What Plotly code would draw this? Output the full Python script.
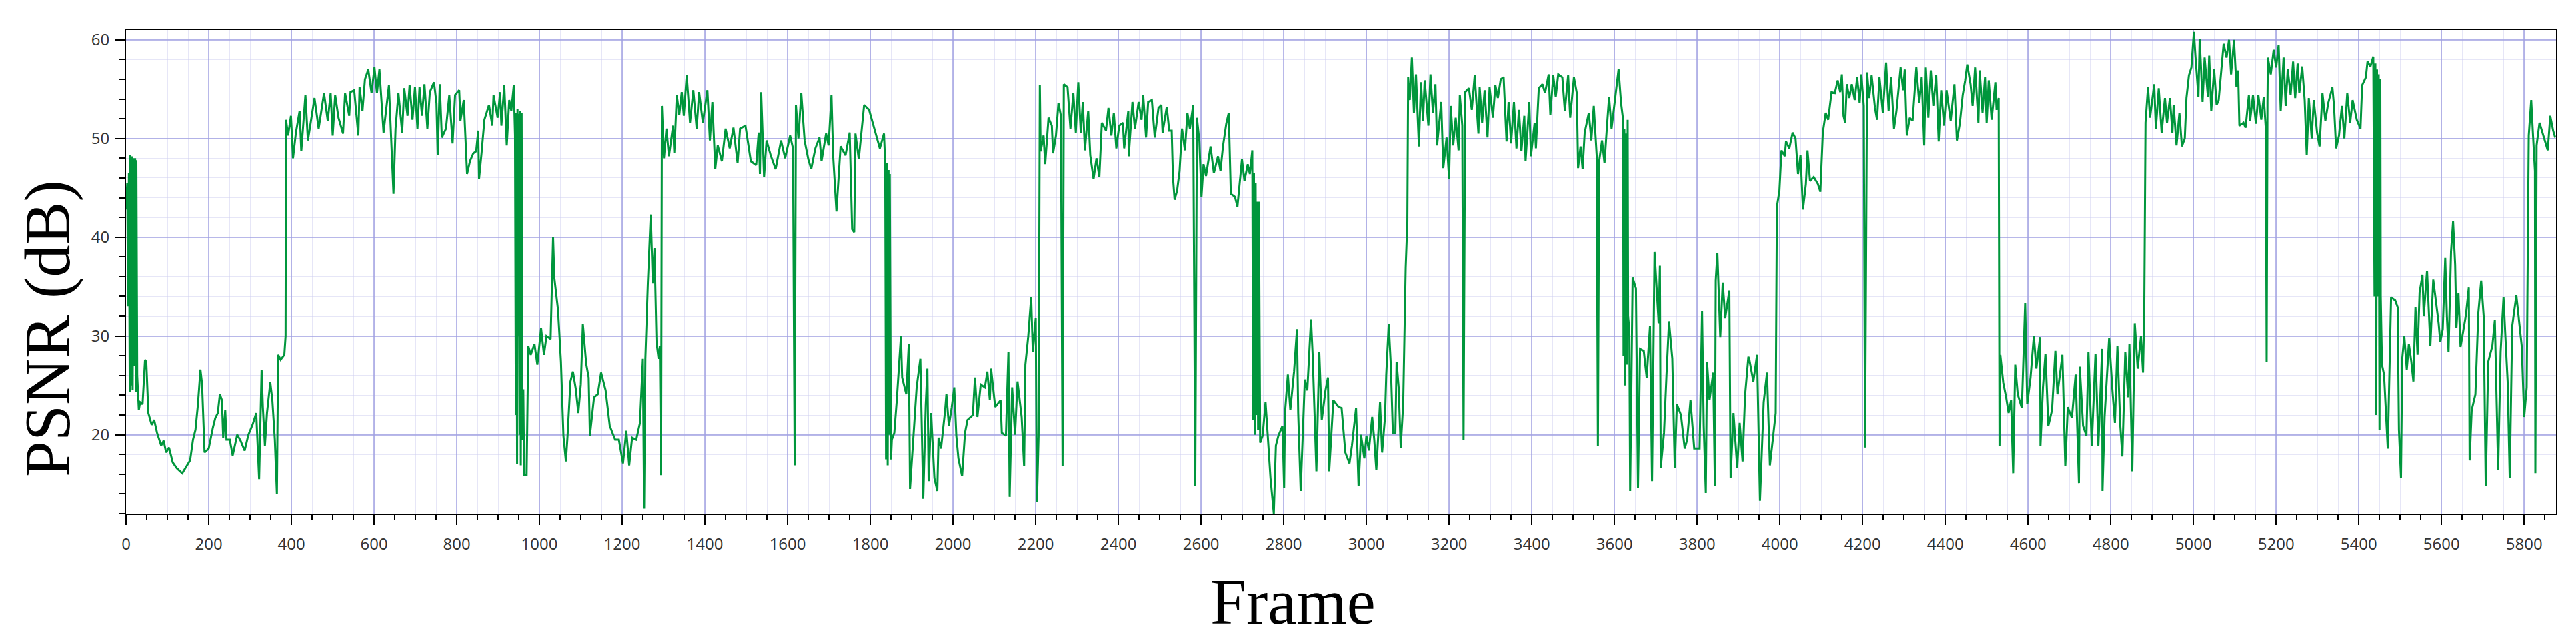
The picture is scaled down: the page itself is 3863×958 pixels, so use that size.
import plotly.graph_objects as go

# (frame, PSNR dB) pairs, one list per stretch of the sequence
part_0_960 = [
    (0, 42.8), (3, 45.5), (5, 33.0), (7, 46.5), (9, 24.3), (10, 48.3), (12, 25.0), (14, 48.2),
    (16, 24.5), (18, 48.0), (20, 27.0), (22, 48.0), (24, 24.3), (25, 47.8), (27, 26.0), (29, 23.5),
    (31, 22.5), (34, 23.3), (40, 23.1), (46, 27.6), (49, 27.4), (54, 22.2), (62, 21.0), (68, 21.5),
    (75, 20.2), (85, 18.9), (91, 19.4), (97, 18.2), (104, 18.7), (113, 17.2), (123, 16.6), (136, 16.1),
    (146, 16.8), (155, 17.4), (162, 19.5), (168, 20.5), (174, 23.1), (180, 26.6), (184, 25.1), (187, 22.2),
    (190, 18.2), (200, 18.6), (210, 20.7), (216, 21.7), (222, 22.2), (227, 24.1), (232, 23.5), (235, 19.7),
    (240, 22.5), (243, 19.5), (251, 19.5), (258, 17.9), (269, 20.0), (277, 19.4), (287, 18.4), (296, 20.0),
    (306, 21.0), (315, 22.2), (322, 15.5), (328, 26.6), (331, 22.8), (336, 18.9), (341, 22.2), (349, 25.3),
    (354, 23.5), (360, 19.5), (365, 14.0), (368, 28.1), (374, 27.6), (383, 28.1), (386, 30.0), (387, 51.9),
    (392, 50.3), (399, 52.3), (404, 48.0), (411, 50.6), (420, 52.8), (424, 48.7), (434, 54.4), (440, 49.8),
    (447, 51.6), (456, 54.1), (466, 51.0), (479, 54.6), (488, 51.8), (495, 54.6), (500, 50.3), (506, 54.4),
    (514, 52.1), (525, 50.5), (530, 54.6), (540, 52.3), (543, 54.7), (552, 54.9), (562, 50.3), (565, 55.2),
    (572, 52.8), (578, 56.0), (586, 57.0), (594, 54.6), (601, 57.2), (607, 54.6), (613, 57.0), (617, 54.1),
    (623, 50.6), (636, 55.4), (647, 44.4), (652, 51.0), (659, 54.6), (668, 50.6), (673, 55.1), (681, 52.3),
    (686, 55.4), (693, 51.9), (699, 55.2), (705, 51.0), (710, 55.2), (716, 52.3), (722, 55.5), (729, 51.0),
    (735, 54.7), (745, 55.7), (751, 53.6), (754, 48.3), (759, 55.5), (764, 50.1), (774, 51.0), (782, 54.4),
    (790, 49.5), (796, 54.4), (806, 54.9), (809, 51.8), (817, 53.9), (825, 46.4), (832, 47.7), (840, 48.5),
    (847, 48.7), (852, 50.8), (854, 45.9), (860, 48.5), (867, 51.9), (878, 53.4), (886, 51.3), (889, 54.4),
    (899, 52.1), (905, 54.7), (908, 51.3), (915, 55.4), (921, 49.3), (927, 53.9), (932, 52.8), (938, 55.4),
    (941, 50.3), (943, 22.0), (944, 52.6), (946, 17.0), (947, 53.0), (949, 30.0), (950, 52.5), (952, 20.0),
    (953, 52.8), (955, 16.9), (957, 52.6), (959, 19.5), (961, 24.6), (963, 15.9),
]

part_960_1950 = [
    (969, 15.9), (973, 29.0), (979, 28.1), (988, 29.2), (995, 27.1), (1004, 30.8), (1011, 28.1), (1017, 30.0),
    (1027, 29.7), (1033, 40.0), (1036, 35.9), (1045, 32.6), (1052, 27.4), (1058, 19.9), (1064, 17.3), (1068, 19.9),
    (1075, 25.4), (1081, 26.4), (1088, 24.6), (1094, 22.2), (1100, 25.1), (1105, 31.2), (1113, 27.2), (1119, 25.8),
    (1122, 19.9), (1132, 23.8), (1141, 24.1), (1149, 26.3), (1160, 24.5), (1170, 20.9), (1183, 19.5), (1192, 19.5),
    (1202, 17.1), (1210, 20.4), (1217, 16.9), (1224, 19.7), (1234, 19.5), (1243, 21.2), (1250, 27.7), (1253, 12.5),
    (1256, 27.7), (1262, 35.3), (1269, 42.3), (1274, 35.3), (1278, 38.9), (1283, 29.4), (1288, 27.7), (1291, 29.0),
    (1294, 15.9), (1296, 53.3), (1301, 48.0), (1307, 51.0), (1313, 48.2), (1323, 51.3), (1326, 48.5), (1332, 54.4),
    (1338, 52.4), (1344, 54.7), (1349, 52.3), (1356, 56.4), (1364, 51.6), (1372, 54.9), (1380, 51.0), (1386, 54.7),
    (1395, 51.6), (1406, 54.9), (1412, 49.8), (1418, 53.7), (1425, 46.9), (1431, 49.3), (1441, 47.7), (1450, 51.0),
    (1460, 49.0), (1469, 51.1), (1479, 47.5), (1485, 51.0), (1498, 51.3), (1511, 47.7), (1524, 47.3), (1530, 50.6),
    (1533, 46.4), (1536, 54.7), (1543, 46.1), (1549, 49.8), (1559, 48.3), (1571, 46.9), (1584, 49.8), (1594, 48.0),
    (1606, 50.3), (1613, 49.0), (1617, 16.9), (1620, 53.4), (1626, 50.0), (1633, 54.6), (1641, 49.8), (1650, 47.9),
    (1657, 46.9), (1667, 49.0), (1677, 50.1), (1682, 47.7), (1693, 50.5), (1699, 49.3), (1706, 54.4), (1710, 48.3),
    (1718, 42.6), (1728, 49.2), (1740, 48.3), (1750, 50.6), (1756, 40.8), (1761, 40.5), (1764, 50.5), (1772, 47.9),
    (1785, 53.4), (1797, 52.9), (1810, 51.0), (1823, 49.0), (1833, 50.5), (1836, 47.4), (1838, 17.5), (1840, 47.5),
    (1842, 16.9), (1844, 46.8), (1846, 20.0), (1847, 46.4), (1850, 17.5), (1852, 19.5), (1858, 20.2), (1864, 23.5),
    (1874, 30.0), (1877, 25.8), (1887, 24.1), (1893, 29.2), (1896, 14.5), (1903, 18.9), (1912, 24.8), (1921, 27.7),
    (1928, 13.5), (1934, 23.0), (1938, 26.7), (1941, 15.3), (1947, 22.2),
]

part_1950_2940 = [
    (1955, 15.6), (1962, 14.3), (1965, 19.7), (1971, 18.6), (1981, 22.5), (1984, 24.1), (1990, 20.9), (1997, 22.8),
    (2003, 24.8), (2008, 19.9), (2013, 17.6), (2022, 15.8), (2029, 20.2), (2035, 21.5), (2048, 22.0), (2053, 25.8),
    (2059, 21.8), (2067, 25.1), (2077, 24.8), (2083, 26.4), (2089, 23.5), (2092, 26.7), (2102, 22.8), (2115, 23.5),
    (2118, 20.2), (2128, 19.9), (2134, 28.4), (2137, 13.7), (2143, 24.8), (2150, 20.0), (2156, 25.4), (2166, 21.8),
    (2172, 16.8), (2175, 27.1), (2182, 30.0), (2189, 33.9), (2193, 28.4), (2200, 31.8), (2203, 13.2), (2207, 19.9),
    (2210, 55.4), (2212, 48.7), (2219, 50.3), (2223, 47.4), (2231, 52.1), (2239, 51.3), (2242, 48.5), (2249, 50.3),
    (2255, 53.6), (2261, 52.3), (2265, 16.8), (2268, 55.5), (2277, 55.2), (2284, 51.0), (2291, 54.6), (2297, 50.6),
    (2303, 55.7), (2309, 50.6), (2314, 53.7), (2319, 48.8), (2327, 52.8), (2332, 48.3), (2340, 45.9), (2347, 48.0),
    (2354, 46.1), (2360, 51.6), (2370, 50.8), (2376, 53.1), (2383, 50.3), (2389, 52.6), (2395, 49.0), (2402, 51.3),
    (2411, 51.6), (2414, 49.0), (2424, 52.8), (2425, 48.2), (2434, 53.7), (2440, 51.0), (2449, 53.7), (2456, 51.9),
    (2460, 54.4), (2467, 50.1), (2472, 53.7), (2481, 53.9), (2488, 50.1), (2497, 53.1), (2504, 53.4), (2507, 50.6),
    (2517, 53.2), (2523, 50.8), (2529, 50.8), (2532, 46.1), (2536, 43.8), (2542, 44.7), (2548, 46.7), (2554, 51.0),
    (2561, 48.8), (2567, 52.6), (2573, 51.0), (2581, 53.4), (2586, 14.8), (2590, 52.1), (2596, 49.7), (2601, 44.1),
    (2606, 47.4), (2612, 46.2), (2623, 49.2), (2631, 46.5), (2641, 48.2), (2647, 46.7), (2653, 49.2), (2661, 51.5),
    (2667, 52.6), (2672, 44.4), (2682, 44.1), (2688, 43.1), (2699, 47.9), (2705, 45.7), (2713, 47.4), (2718, 46.4),
    (2724, 48.8), (2726, 21.5), (2728, 46.5), (2730, 20.0), (2732, 45.5), (2734, 22.0), (2736, 43.6), (2738, 20.5),
    (2740, 43.6), (2743, 19.2), (2749, 19.9), (2756, 23.3), (2762, 19.5), (2768, 15.6), (2776, 12.0), (2781, 18.9),
    (2787, 19.9), (2797, 20.9), (2801, 14.6), (2803, 22.2), (2810, 26.1), (2816, 22.5), (2825, 26.4), (2832, 30.7),
    (2835, 22.2), (2841, 14.3), (2851, 25.6), (2857, 24.5), (2866, 31.7), (2870, 28.1), (2879, 16.3), (2886, 28.4),
    (2892, 21.5), (2901, 24.5), (2907, 25.8), (2910, 16.3), (2920, 23.5), (2933, 22.8),
]

part_2940_3925 = [
    (2940, 22.7), (2949, 18.2), (2959, 17.1), (2965, 18.9), (2975, 22.7), (2981, 14.8), (2987, 20.0), (2995, 17.6),
    (3000, 19.9), (3006, 18.4), (3014, 21.8), (3019, 19.5), (3024, 16.4), (3033, 23.3), (3038, 18.2), (3045, 21.8),
    (3048, 26.1), (3054, 31.2), (3059, 27.1), (3064, 20.2), (3070, 20.2), (3073, 27.4), (3078, 24.8), (3083, 18.7),
    (3089, 23.1), (3095, 36.9), (3099, 41.5), (3101, 56.2), (3105, 53.9), (3110, 58.2), (3115, 52.6), (3120, 56.5),
    (3127, 49.2), (3132, 55.7), (3137, 51.8), (3141, 55.9), (3150, 51.3), (3155, 56.5), (3161, 52.6), (3167, 55.5),
    (3171, 49.3), (3175, 51.0), (3181, 53.7), (3186, 47.0), (3194, 50.1), (3200, 45.9), (3204, 53.3), (3210, 49.3),
    (3216, 52.1), (3223, 48.8), (3226, 54.4), (3232, 51.3), (3235, 19.5), (3239, 54.7), (3248, 55.1), (3255, 52.9),
    (3262, 56.4), (3271, 50.5), (3274, 55.2), (3280, 51.6), (3286, 54.9), (3293, 50.1), (3298, 55.2), (3306, 52.1),
    (3312, 55.4), (3318, 54.1), (3325, 56.0), (3332, 56.2), (3339, 49.7), (3344, 53.7), (3350, 49.5), (3357, 53.7),
    (3363, 49.0), (3369, 52.9), (3375, 48.7), (3382, 52.3), (3385, 47.7), (3394, 53.7), (3398, 48.2), (3407, 51.6),
    (3410, 49.0), (3417, 55.1), (3426, 55.5), (3432, 54.6), (3441, 56.5), (3445, 52.4), (3452, 56.4), (3458, 54.2),
    (3464, 56.5), (3474, 56.2), (3480, 52.8), (3488, 56.4), (3493, 52.1), (3502, 56.2), (3509, 54.6), (3512, 47.0),
    (3518, 49.2), (3523, 46.9), (3528, 50.6), (3538, 52.6), (3544, 49.8), (3550, 53.3), (3557, 48.3), (3560, 18.9),
    (3563, 47.7), (3570, 49.8), (3576, 47.5), (3582, 51.3), (3587, 54.2), (3593, 51.0), (3602, 54.1), (3610, 57.0),
    (3616, 53.6), (3621, 51.9), (3622, 28.0), (3624, 51.0), (3626, 25.0), (3628, 50.5), (3630, 27.1), (3632, 51.9),
    (3633, 32.0), (3636, 30.7), (3638, 14.3), (3644, 35.9), (3652, 34.8), (3657, 14.6), (3662, 28.7), (3671, 28.5),
    (3678, 25.8), (3686, 31.0), (3691, 15.3), (3697, 38.5), (3707, 31.3), (3710, 37.1), (3712, 16.6), (3720, 20.2),
    (3726, 26.1), (3732, 31.5), (3740, 27.7), (3746, 16.6), (3751, 23.1), (3761, 22.0), (3770, 18.6), (3776, 19.5),
    (3784, 23.5), (3793, 18.6), (3806, 18.6), (3812, 32.5), (3816, 20.9), (3821, 14.1), (3824, 27.4), (3830, 23.5),
    (3839, 26.3), (3843, 14.8), (3845, 35.6), (3849, 38.4), (3856, 29.9), (3862, 35.4), (3868, 31.8), (3878, 34.6),
    (3881, 15.6), (3888, 22.2), (3897, 16.6), (3903, 21.2), (3910, 17.3), (3916, 24.0), (3924, 27.9),
]

part_3925_4905 = [
    (3926, 27.7), (3936, 25.4), (3945, 28.1), (3952, 13.3), (3961, 23.3), (3969, 26.3), (3976, 16.9), (3983, 19.5),
    (3990, 22.2), (3993, 43.1), (3999, 44.7), (4004, 48.8), (4012, 48.2), (4015, 49.7), (4023, 49.0), (4031, 50.6),
    (4038, 50.0), (4044, 46.4), (4050, 48.3), (4056, 42.8), (4063, 45.4), (4067, 48.8), (4073, 45.7), (4082, 46.1),
    (4092, 45.4), (4098, 44.6), (4104, 50.6), (4111, 52.6), (4117, 51.9), (4125, 54.7), (4133, 54.6), (4140, 55.9),
    (4146, 54.7), (4150, 56.5), (4154, 52.3), (4158, 51.6), (4162, 55.5), (4168, 54.1), (4174, 55.5), (4181, 53.9),
    (4187, 56.2), (4193, 53.6), (4197, 56.5), (4203, 53.3), (4206, 18.7), (4211, 56.7), (4216, 54.1), (4222, 56.4),
    (4230, 53.1), (4235, 51.9), (4241, 56.2), (4249, 52.6), (4257, 57.7), (4263, 52.8), (4269, 56.2), (4276, 51.0),
    (4282, 52.8), (4292, 57.2), (4298, 54.9), (4302, 57.0), (4307, 50.3), (4314, 52.1), (4321, 51.8), (4330, 57.2),
    (4337, 53.6), (4343, 56.2), (4349, 49.3), (4353, 57.2), (4359, 52.1), (4365, 56.9), (4371, 53.3), (4378, 56.4),
    (4384, 49.7), (4390, 54.9), (4397, 51.3), (4403, 54.9), (4413, 51.8), (4422, 55.5), (4428, 49.8), (4435, 51.5),
    (4442, 54.4), (4448, 55.9), (4453, 57.5), (4461, 55.5), (4466, 53.3), (4472, 57.2), (4480, 51.6), (4483, 56.9),
    (4490, 52.6), (4496, 56.2), (4500, 51.6), (4505, 55.9), (4512, 51.9), (4521, 55.7), (4524, 52.9), (4529, 54.1),
    (4531, 18.9), (4533, 28.1), (4540, 25.3), (4547, 23.8), (4553, 22.2), (4559, 23.5), (4564, 16.1), (4569, 27.1),
    (4575, 24.1), (4585, 22.7), (4589, 28.9), (4593, 33.3), (4598, 23.1), (4606, 25.8), (4614, 30.0), (4620, 26.7),
    (4629, 29.9), (4630, 18.9), (4636, 24.8), (4642, 28.2), (4649, 20.9), (4658, 22.5), (4666, 28.5), (4671, 24.1),
    (4677, 26.1), (4683, 28.1), (4690, 16.8), (4696, 22.8), (4706, 21.7), (4715, 26.1), (4723, 15.1), (4725, 26.9),
    (4733, 20.9), (4741, 19.9), (4746, 28.4), (4754, 18.9), (4763, 28.2), (4770, 18.9), (4779, 28.7), (4780, 14.3),
    (4785, 21.8), (4796, 29.8), (4804, 24.5), (4810, 21.2), (4816, 29.0), (4823, 20.9), (4828, 17.8), (4835, 28.4),
    (4842, 23.8), (4845, 29.2), (4852, 16.3), (4858, 31.3), (4865, 26.7), (4873, 30.0), (4878, 26.3), (4881, 32.9),
    (4884, 51.6), (4890, 55.2), (4895, 52.1), (4905, 55.5),
]

part_4905_end = [
    (4909, 51.0), (4916, 55.1), (4923, 50.6), (4931, 54.1), (4936, 51.6), (4943, 54.1), (4949, 50.6), (4952, 53.4),
    (4959, 49.3), (4966, 52.6), (4972, 49.2), (4979, 50.0), (4983, 54.1), (4989, 56.4), (4995, 57.2), (5001, 60.8),
    (5005, 58.2), (5012, 54.2), (5015, 60.1), (5022, 53.7), (5027, 58.2), (5035, 54.2), (5038, 58.4), (5043, 52.8),
    (5050, 57.0), (5056, 53.4), (5061, 53.9), (5067, 57.0), (5073, 59.6), (5080, 58.2), (5086, 60.0), (5091, 56.5),
    (5098, 60.0), (5104, 55.2), (5108, 56.9), (5111, 51.3), (5121, 51.6), (5126, 51.1), (5134, 54.4), (5137, 51.8),
    (5144, 54.4), (5151, 51.5), (5157, 54.4), (5164, 51.9), (5170, 54.2), (5175, 51.0), (5177, 27.4), (5179, 53.7),
    (5180, 58.2), (5187, 56.5), (5194, 59.0), (5200, 57.2), (5206, 59.5), (5211, 52.8), (5218, 58.2), (5223, 53.3),
    (5228, 57.0), (5235, 54.4), (5241, 57.8), (5246, 54.1), (5252, 57.6), (5256, 54.6), (5263, 57.3), (5269, 53.9),
    (5274, 48.3), (5279, 54.1), (5286, 50.0), (5291, 53.9), (5299, 50.6), (5305, 49.2), (5312, 54.6), (5319, 51.8),
    (5326, 53.6), (5336, 55.2), (5340, 53.3), (5345, 49.0), (5352, 50.3), (5359, 53.3), (5365, 50.0), (5372, 54.6),
    (5379, 51.6), (5385, 53.9), (5395, 51.9), (5404, 51.0), (5408, 55.4), (5417, 56.2), (5421, 57.8), (5428, 57.3),
    (5435, 58.3), (5438, 34.0), (5440, 57.6), (5442, 22.0), (5444, 57.0), (5446, 34.0), (5448, 56.5), (5450, 20.5),
    (5452, 56.0), (5453, 34.0), (5456, 27.1), (5461, 26.1), (5470, 18.6), (5478, 33.9), (5488, 33.6), (5494, 32.9),
    (5497, 20.5), (5502, 15.6), (5505, 27.7), (5510, 30.0), (5516, 26.6), (5521, 29.2), (5527, 27.4), (5532, 25.4),
    (5537, 32.9), (5542, 28.1), (5547, 34.4), (5554, 36.2), (5557, 32.0), (5565, 36.6), (5570, 32.3), (5573, 29.0),
    (5580, 35.7), (5587, 33.3), (5593, 31.3), (5597, 29.4), (5603, 30.7), (5609, 37.9), (5613, 32.0), (5617, 28.4),
    (5623, 38.5), (5628, 41.6), (5633, 37.2), (5636, 30.8), (5641, 34.3), (5646, 28.9), (5652, 30.3), (5659, 32.1),
    (5666, 34.9), (5668, 17.4), (5673, 22.5), (5682, 24.1), (5689, 32.3), (5696, 35.6), (5702, 32.0), (5707, 14.8),
    (5713, 27.4), (5723, 29.0), (5729, 31.6), (5737, 16.4), (5743, 28.4), (5750, 33.9), (5756, 28.7), (5760, 25.4),
    (5765, 15.6), (5771, 31.0), (5781, 34.1), (5788, 31.3), (5794, 29.0), (5800, 21.8), (5806, 24.8), (5811, 50.3),
    (5817, 53.9), (5821, 50.6), (5826, 46.7), (5827, 16.1), (5830, 49.3), (5837, 51.6), (5844, 50.6), (5850, 49.8),
    (5857, 48.8), (5863, 52.3), (5870, 50.8), (5875, 50.1),
]

x_ticks = list(range(0, 5801, 200))
y_ticks = [20, 30, 40, 50, 60]

GREEN = "#00963c"
MAJOR_GRID = "rgba(160,160,225,0.75)"
MINOR_GRID = "rgba(205,205,240,0.5)"
TICK_FONT = dict(family="Open Sans", size=24, color="#333333")
TITLE_FONT = dict(family="Liberation Serif", size=97, color="#000000")

points = part_0_960 + part_960_1950 + part_1950_2940 + part_2940_3925 + part_3925_4905 + part_4905_end
frames = [p[0] for p in points]
psnr = [p[1] for p in points]

fig = go.Figure(go.Scatter(x=frames, y=psnr, mode="lines", line=dict(color=GREEN, width=3), showlegend=False))

axis_common = dict(
    showline=True, linecolor="black", linewidth=2, mirror=True,
    ticks="outside", tickcolor="black", tickwidth=2,
    showgrid=True, gridcolor=MAJOR_GRID, gridwidth=1.5, zeroline=False,
    tickfont=TICK_FONT,
)
fig.update_xaxes(
    range=[0, 5877], tickvals=x_ticks, ticklen=15, ticklabelstandoff=8,
    minor=dict(dtick=50, tick0=0, ticks="outside", ticklen=8, tickwidth=2, tickcolor="black",
               showgrid=True, gridcolor=MINOR_GRID, gridwidth=1),
    **axis_common,
)
fig.update_yaxes(
    range=[12, 61], tickvals=y_ticks, ticklen=14, ticklabelstandoff=4,
    minor=dict(dtick=2, tick0=0, ticks="outside", ticklen=8, tickwidth=2, tickcolor="black",
               showgrid=True, gridcolor=MINOR_GRID, gridwidth=1),
    **axis_common,
)

fig.add_annotation(text="Frame", xref="paper", yref="paper", x=0.4802, y=-0.183,
                   xanchor="center", yanchor="middle", showarrow=False, font=TITLE_FONT)
fig.add_annotation(text="PSNR (dB)", xref="paper", yref="paper", x=-0.0322, y=0.383, textangle=-90,
                   xanchor="center", yanchor="middle", showarrow=False, font=TITLE_FONT)

fig.update_layout(
    width=3863, height=958,
    margin=dict(l=181, r=38, t=37, b=196),
    paper_bgcolor="white", plot_bgcolor="white",
)

fig.write_html("out.html")
